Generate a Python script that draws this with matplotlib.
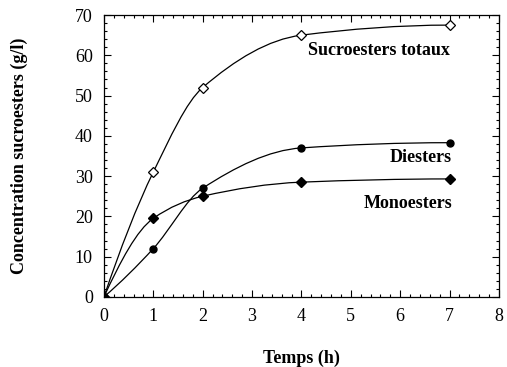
import numpy as np
import matplotlib
matplotlib.use("Agg")
import matplotlib.pyplot as plt
from matplotlib.path import Path
from matplotlib.patches import PathPatch
from matplotlib.ticker import MultipleLocator

# data
temps = [0, 1, 2, 4, 7]
totaux = [0, 31, 52, 65, 67.5]
diesters = [0, 12, 27, 37, 38.3]
monoesters = [0, 19.5, 25, 28.5, 29.3]

plt.rcParams["font.family"] = ["Liberation Serif", "DejaVu Serif"]


def _end_slope(h0, h1, d0, d1):
    m = ((2 * h0 + h1) * d0 - h0 * d1) / (h0 + h1)
    if np.sign(m) != np.sign(d0):
        return 0.0
    if np.sign(d0) != np.sign(d1) and abs(m) > abs(3 * d0):
        return 3 * d0
    return m


def smooth_path(xs, ys):
    """Monotone cubic (PCHIP-like) curve as Bezier segments through the points."""
    xs = np.asarray(xs, float)
    ys = np.asarray(ys, float)
    h = np.diff(xs)
    d = np.diff(ys) / h
    n = len(xs)
    m = np.zeros(n)
    for k in range(1, n - 1):
        if d[k - 1] * d[k] > 0:
            w1 = 2 * h[k] + h[k - 1]
            w2 = h[k] + 2 * h[k - 1]
            m[k] = (w1 + w2) / (w1 / d[k - 1] + w2 / d[k])
    m[0] = _end_slope(h[0], h[1], d[0], d[1])
    m[-1] = _end_slope(h[-1], h[-2], d[-1], d[-2])
    verts = [(xs[0], ys[0])]
    codes = [Path.MOVETO]
    for i in range(n - 1):
        c1 = (xs[i] + h[i] / 3, ys[i] + m[i] * h[i] / 3)
        c2 = (xs[i + 1] - h[i] / 3, ys[i + 1] - m[i + 1] * h[i] / 3)
        verts += [c1, c2, (xs[i + 1], ys[i + 1])]
        codes += [Path.CURVE4] * 3
    return Path(verts, codes)


fig = plt.figure(figsize=(5.07, 3.67), dpi=100)
ax = fig.add_axes([0.205, 0.191, 0.779, 0.768])

for ys in (totaux, diesters, monoesters):
    ax.add_patch(PathPatch(smooth_path(temps, ys), facecolor="none",
                           edgecolor="black", linewidth=0.9))

ax.plot(temps, totaux, linestyle="none", marker="D", markersize=5.5,
        markerfacecolor="white", markeredgecolor="black", markeredgewidth=0.9)
ax.plot(temps, diesters, linestyle="none", marker="o", markersize=5,
        color="black")
ax.plot(temps, monoesters, linestyle="none", marker="D", markersize=5,
        color="black")

ax.text(7.0, 61.3, "Sucroesters totaux", ha="right", va="center",
        fontsize=13, fontweight="bold")
ax.text(7.05, 34.5, "Diesters", ha="right", va="center",
        fontsize=13, fontweight="bold")
ax.text(7.05, 23.3, "Monoesters", ha="right", va="center",
        fontsize=13, fontweight="bold")

ax.set_xlim(0, 8)
ax.set_ylim(0, 70)
ax.xaxis.set_major_locator(MultipleLocator(1))
ax.xaxis.set_minor_locator(MultipleLocator(0.2))
ax.yaxis.set_major_locator(MultipleLocator(10))
ax.yaxis.set_minor_locator(MultipleLocator(2))
ax.tick_params(which="both", direction="in", top=True, right=True,
               labelsize=13, width=0.8)
ax.tick_params(which="major", length=5, pad=8)
ax.tick_params(which="minor", length=2.5)
for sp in ax.spines.values():
    sp.set_linewidth(0.9)

ax.set_xlabel("Temps (h)", fontsize=13, fontweight="bold", labelpad=18)
ax.set_ylabel("Concentration sucroesters (g/l)", fontsize=13,
              fontweight="bold", labelpad=34)

fig.savefig("out.png", dpi=100)
